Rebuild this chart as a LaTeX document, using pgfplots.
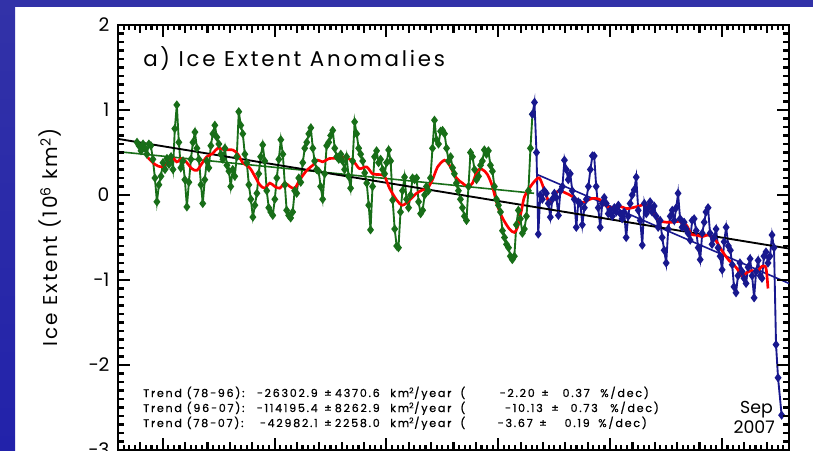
\documentclass[border=0pt]{standalone}
\usepackage{fontspec}
\setmainfont{Poppins}
\newfontfamily\titlefont[LetterSpace=13]{Poppins}
\newfontfamily\labelfont[LetterSpace=10]{Poppins}
\newfontfamily\trendfont[LetterSpace=16, FakeBold=0.8]{Poppins}
\usepackage{pgfplots}
\pgfplotsset{compat=1.18}
\definecolor{dgreen}{RGB}{24,110,24}
\definecolor{dblue}{RGB}{24,24,142}
\definecolor{bgTop}{RGB}{50,50,168}
\definecolor{bgMid}{RGB}{98,98,196}
\definecolor{bgBot}{RGB}{34,34,170}
\begin{document}
\begin{tikzpicture}
\begin{scope}[x=0.75pt,y=0.75pt]
\fill[white] (0,0) rectangle (813,450);
\shade[top color=bgTop, middle color=bgMid, bottom color=bgBot] (0,0) rectangle (15,450);
\fill[bgTop] (0,443) rectangle (813,450);
\end{scope}
\begin{axis}[
  at={(88.5pt,0pt)}, anchor=south west,
  width=503.25pt, height=318.75pt, scale only axis,
  xmin=1978, xmax=2008, ymin=-3, ymax=2,
  axis line style={line width=1.5pt},
  tick align=inside, tick pos=both,
  xtick={1980,1985,...,2005}, xticklabels={},
  ytick={-3,-2,-1,0,1,2},
  yticklabels={−3,−2,−1,0,1,2},
  major tick length=9pt,
  tick style={black, line width=1.5pt},
  yticklabel style={font=\fontsize{14}{16}\selectfont, xshift=-3pt},
  ylabel={Ice Extent (10\textsuperscript{6} km\textsuperscript{2})},
  ylabel style={font=\labelfont\fontsize{15}{17}\selectfont, at={(axis description cs:-0.101,0.5)}, anchor=center},
  clip=true,
]
% green: monthly anomalies 1978-1996
\addplot[dgreen, line width=1.4pt, mark=diamond*, mark size=2.3pt, mark options={solid}] table {
1978.85 0.62
1978.94 0.58
1979.03 0.52
1979.12 0.60
1979.21 0.55
1979.29 0.48
1979.38 0.60
1979.47 0.58
1979.56 0.42
1979.65 0.20
1979.74 -0.08
1979.83 0.12
1979.92 0.22
1980.01 0.38
1980.10 0.30
1980.19 0.43
1980.28 0.36
1980.37 0.45
1980.46 0.30
1980.54 0.78
1980.63 1.06
1980.72 0.62
1980.81 0.32
1980.90 0.40
1980.99 0.18
1981.08 -0.14
1981.17 0.15
1981.26 0.42
1981.35 0.62
1981.44 0.74
1981.53 0.55
1981.62 0.42
1981.71 0.12
1981.79 -0.10
1981.88 0.18
1981.97 0.40
1982.06 0.32
1982.15 0.58
1982.24 0.72
1982.33 0.82
1982.42 0.68
1982.51 0.60
1982.60 0.48
1982.69 0.42
1982.78 0.55
1982.87 0.35
1982.96 0.28
1983.04 0.10
1983.13 0.30
1983.22 0.22
1983.31 0.45
1983.40 0.98
1983.49 0.82
1983.58 0.72
1983.67 0.48
1983.76 0.38
1983.85 0.12
1983.94 -0.05
1984.03 -0.26
1984.12 -0.12
1984.21 0.02
1984.29 0.25
1984.38 0.45
1984.47 0.59
1984.56 0.40
1984.65 0.05
1984.74 -0.15
1984.83 -0.20
1984.92 -0.24
1985.01 -0.05
1985.10 0.20
1985.19 0.42
1985.28 0.65
1985.37 0.48
1985.46 0.12
1985.54 -0.18
1985.63 -0.24
1985.72 -0.27
1985.81 -0.20
1985.90 0.05
1985.99 0.02
1986.08 0.20
1986.17 0.15
1986.26 0.38
1986.35 0.55
1986.44 0.62
1986.53 0.72
1986.62 0.79
1986.71 0.55
1986.79 0.40
1986.88 0.30
1986.97 0.28
1987.06 0.10
1987.15 -0.05
1987.24 0.25
1987.33 0.58
1987.42 0.62
1987.51 0.70
1987.60 0.76
1987.69 0.55
1987.78 0.45
1987.87 0.42
1987.96 0.48
1988.04 0.40
1988.13 0.30
1988.22 0.45
1988.31 0.22
1988.40 0.08
1988.49 0.40
1988.58 0.86
1988.67 0.72
1988.76 0.55
1988.85 0.48
1988.94 0.40
1989.03 0.26
1989.12 0.14
1989.21 -0.12
1989.29 -0.41
1989.38 0.10
1989.47 0.45
1989.56 0.52
1989.65 0.38
1989.74 0.42
1989.83 0.30
1989.92 0.25
1990.01 0.38
1990.10 0.53
1990.19 0.40
1990.28 -0.06
1990.37 -0.40
1990.46 -0.60
1990.54 -0.62
1990.63 -0.20
1990.72 0.05
1990.81 0.21
1990.90 -0.05
1990.99 -0.15
1991.08 0.00
1991.17 0.20
1991.26 0.18
1991.35 0.20
1991.44 -0.08
1991.53 -0.22
1991.62 -0.18
1991.71 0.00
1991.79 0.10
1991.88 0.05
1991.97 0.20
1992.06 0.55
1992.15 0.88
1992.24 0.65
1992.33 0.60
1992.42 0.75
1992.51 0.76
1992.60 0.72
1992.69 0.55
1992.78 0.40
1992.87 0.45
1992.96 0.32
1993.04 0.25
1993.13 0.14
1993.22 0.05
1993.31 -0.05
1993.40 -0.15
1993.49 -0.25
1993.58 -0.30
1993.67 0.10
1993.76 0.50
1993.85 0.45
1993.94 0.30
1994.03 0.18
1994.12 0.22
1994.21 0.35
1994.29 0.40
1994.38 0.53
1994.47 0.48
1994.56 0.52
1994.65 0.35
1994.74 0.28
1994.83 0.10
1994.92 -0.05
1995.01 -0.12
1995.10 -0.20
1995.19 -0.42
1995.28 -0.50
1995.37 -0.58
1995.46 -0.62
1995.54 -0.72
1995.63 -0.76
1995.72 -0.72
1995.81 -0.35
1995.90 -0.18
1995.99 -0.28
1996.08 -0.45
1996.17 -0.40
1996.26 -0.25
1996.35 0.05
1996.44 0.55
1996.53 0.95
};
% blue: monthly anomalies 1996-2007
\addplot[dblue, line width=1.4pt, mark=diamond*, mark size=2.3pt, mark options={solid}] table {
1996.53 0.95
1996.62 1.09
1996.71 0.50
1996.79 -0.46
1996.88 0.00
1996.97 -0.05
1997.06 0.05
1997.15 0.02
1997.24 -0.10
1997.33 -0.26
1997.42 -0.05
1997.51 0.02
1997.60 -0.03
1997.69 -0.24
1997.78 0.05
1997.87 0.10
1997.96 0.41
1998.04 0.30
1998.13 0.18
1998.22 0.25
1998.31 0.05
1998.40 -0.05
1998.49 -0.38
1998.58 -0.08
1998.67 -0.10
1998.76 -0.35
1998.85 -0.15
1998.94 -0.05
1999.03 0.10
1999.12 0.30
1999.21 0.46
1999.29 0.46
1999.38 0.10
1999.47 -0.15
1999.56 -0.38
1999.65 -0.10
1999.74 -0.03
1999.83 -0.10
1999.92 -0.22
2000.01 -0.18
2000.10 -0.25
2000.19 -0.15
2000.28 -0.20
2000.37 -0.12
2000.46 -0.22
2000.54 -0.28
2000.63 -0.20
2000.72 -0.50
2000.81 -0.25
2000.90 -0.10
2000.99 0.00
2001.08 0.06
2001.17 0.21
2001.26 -0.18
2001.35 -0.30
2001.44 -0.59
2001.53 -0.10
2001.62 -0.22
2001.71 -0.15
2001.79 -0.08
2001.88 -0.20
2001.97 -0.13
2002.06 -0.25
2002.15 -0.38
2002.24 -0.30
2002.33 -0.50
2002.42 -0.65
2002.51 -0.80
2002.60 -0.40
2002.69 -0.25
2002.78 -0.18
2002.87 -0.30
2002.96 -0.15
2003.04 0.02
2003.13 -0.28
2003.22 -0.38
2003.31 -0.32
2003.40 -0.40
2003.49 -0.45
2003.58 -0.53
2003.67 -0.30
2003.76 -0.28
2003.85 -0.42
2003.94 -0.62
2004.03 -0.76
2004.12 -0.45
2004.21 -0.32
2004.29 -0.20
2004.38 -0.15
2004.47 -0.45
2004.56 -0.58
2004.65 -0.50
2004.74 -0.40
2004.83 -0.62
2004.92 -0.72
2005.01 -0.88
2005.10 -0.55
2005.19 -0.38
2005.29 -0.60
2005.38 -0.65
2005.46 -0.82
2005.54 -1.08
2005.63 -1.15
2005.72 -0.95
2005.81 -0.80
2005.90 -0.90
2005.99 -0.98
2006.08 -1.04
2006.17 -0.85
2006.26 -0.75
2006.35 -0.95
2006.44 -1.21
2006.53 -0.90
2006.62 -0.77
2006.71 -0.95
2006.79 -0.98
2006.88 -0.72
2006.97 -0.67
2007.06 -0.80
2007.15 -0.72
2007.24 -0.47
2007.33 -0.62
2007.42 -1.76
2007.51 -2.15
2007.67 -2.59
};
% trend lines
\addplot[dgreen, line width=1.2pt] coordinates {(1978,0.51) (1996.6,0.02)};
\addplot[dblue, line width=1.2pt] coordinates {(1996.75,0.24) (2008,-1.04)};
\addplot[black, line width=1.4pt] coordinates {(1978,0.66) (2008,-0.63)};
% smoothed curve
\addplot[red, line width=2pt, smooth] table {
1979.34 0.44
1979.65 0.36
1979.96 0.33
1980.19 0.38
1980.41 0.45
1980.63 0.39
1980.86 0.43
1981.08 0.38
1981.30 0.31
1981.53 0.29
1981.75 0.37
1981.97 0.45
1982.24 0.49
1982.46 0.55
1982.78 0.53
1983.13 0.53
1983.36 0.48
1983.58 0.38
1983.89 0.32
1984.12 0.22
1984.34 0.12
1984.56 0.08
1984.79 0.14
1985.01 0.10
1985.23 0.08
1985.46 0.14
1985.68 0.10
1985.90 0.08
1986.13 0.18
1986.44 0.29
1986.71 0.35
1986.93 0.41
1987.15 0.39
1987.46 0.43
1987.78 0.43
1988.04 0.45
1988.36 0.42
1988.58 0.38
1988.80 0.31
1989.12 0.33
1989.38 0.25
1989.70 0.24
1989.92 0.22
1990.14 0.08
1990.46 -0.06
1990.72 -0.12
1991.04 -0.06
1991.35 0.02
1991.62 0.06
1991.84 0.08
1992.06 0.18
1992.29 0.33
1992.60 0.41
1992.82 0.35
1993.13 0.20
1993.40 0.14
1993.63 0.10
1993.85 0.14
1994.07 0.29
1994.29 0.30
1994.52 0.24
1994.74 0.10
1994.96 -0.12
1995.19 -0.27
1995.50 -0.40
1995.72 -0.44
1995.86 -0.38
1996.04 -0.18
1996.17 -0.02
1996.39 0.08
1996.62 0.16
1996.84 0.20
1997.06 0.06
1997.29 -0.09
1997.51 0.01
1997.73 0.05
1997.96 0.03
1998.27 -0.01
1998.49 -0.05
1998.71 -0.09
1998.94 -0.07
1999.21 -0.04
1999.52 -0.05
1999.83 -0.13
2000.10 -0.15
2000.41 -0.13
2000.72 -0.16
2000.99 -0.15
2001.30 -0.13
2001.62 -0.11
2001.88 -0.20
2002.20 -0.30
2002.51 -0.32
2002.78 -0.32
2003.09 -0.31
2003.40 -0.35
2003.63 -0.46
2003.85 -0.47
2004.12 -0.49
2004.43 -0.47
2004.74 -0.54
2005.01 -0.66
2005.32 -0.77
2005.63 -0.85
2005.90 -0.95
2006.13 -0.91
2006.35 -0.89
2006.57 -0.90
2006.79 -0.84
2006.97 -0.86
2007.06 -1.10
};
\end{axis}
\begin{scope}[x=0.75pt,y=0.75pt]
% axis tick marks on all four sides, frame: x 118..789, y 0..425 (px from bottom)
\foreach \i in {1,...,119} {
  \draw[black, line width=1.6pt] ({118+5.59167*\i},0) -- ++(0,5.5);
  \draw[black, line width=1.6pt] ({118+5.59167*\i},425) -- ++(0,-5.5);
}
\foreach \i in {1,...,29} {
  \draw[black, line width=1.6pt] ({118+22.3667*\i},0) -- ++(0,8.5);
  \draw[black, line width=1.6pt] ({118+22.3667*\i},425) -- ++(0,-8.5);
}
\foreach \i in {2,7,...,27} {
  \draw[black, line width=1.6pt] ({118+22.3667*\i},0) -- ++(0,12);
  \draw[black, line width=1.6pt] ({118+22.3667*\i},425) -- ++(0,-12);
}
\foreach \j in {1,...,49} {
  \draw[black, line width=1.6pt] (118,{8.5*\j}) -- ++(6,0);
  \draw[black, line width=1.6pt] (789,{8.5*\j}) -- ++(-6,0);
}
\foreach \j in {1,...,4} {
  \draw[black, line width=1.6pt] (118,{85*\j}) -- ++(12,0);
  \draw[black, line width=1.6pt] (789,{85*\j}) -- ++(-12,0);
}
% title (baseline 67 px from top)
\node[anchor=base west, inner sep=0pt, font=\titlefont\fontsize{16}{18}\selectfont] at (143,383) {a) Ice Extent Anomalies};
% trend annotations (baselines at 397, 412, 427 px from top)
\begin{scope}[every node/.style={inner sep=0pt, font=\trendfont\fontsize{8.3}{10}\selectfont}]
\node[anchor=base west] at (143,53) {Trend (78−96):};
\node[anchor=base east] at (318,53) {−26302.9};
\node[anchor=base west] at (324,53) {±};
\node[anchor=base east] at (380,53) {4370.6};
\node[anchor=base west] at (390,53) {km\textsuperscript{2}/year};
\node[anchor=base west] at (460,53) {(};
\node[anchor=base east] at (535,53) {−2.20};
\node[anchor=base west] at (541,53) {±};
\node[anchor=base east] at (590,53) {0.37};
\node[anchor=base west] at (600,53) {\%/dec)};
\node[anchor=base west] at (143,38) {Trend (96−07):};
\node[anchor=base east] at (318,38) {−114195.4};
\node[anchor=base west] at (324,38) {±};
\node[anchor=base east] at (380,38) {8262.9};
\node[anchor=base west] at (390,38) {km\textsuperscript{2}/year};
\node[anchor=base west] at (460,38) {(};
\node[anchor=base east] at (543,38) {−10.13};
\node[anchor=base west] at (551,38) {±};
\node[anchor=base east] at (598,38) {0.73};
\node[anchor=base west] at (610,38) {\%/dec)};
\node[anchor=base west] at (143,23) {Trend (78−07):};
\node[anchor=base east] at (318,23) {−42982.1};
\node[anchor=base west] at (324,23) {±};
\node[anchor=base east] at (380,23) {2258.0};
\node[anchor=base west] at (390,23) {km\textsuperscript{2}/year};
\node[anchor=base west] at (460,23) {(};
\node[anchor=base east] at (533,23) {−3.67};
\node[anchor=base west] at (539,23) {±};
\node[anchor=base east] at (590,23) {0.19};
\node[anchor=base west] at (598,23) {\%/dec)};
\end{scope}
\node[anchor=base east, inner sep=0pt, font=\fontsize{13}{15}\selectfont] at (773,37) {Sep};
\node[anchor=base east, inner sep=0pt, font=\fontsize{13}{15}\selectfont] at (775,17) {2007};
\end{scope}
\pgfresetboundingbox
\path[use as bounding box] (0pt,0pt) rectangle (609.75pt,337.5pt);
\end{tikzpicture}
\end{document}
